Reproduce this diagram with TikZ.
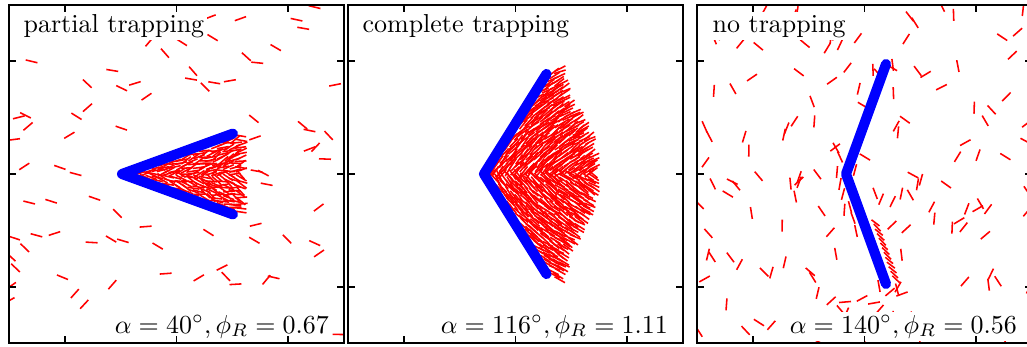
\documentclass[tikz,border=0pt]{standalone}
\usepackage{amsmath}
\usetikzlibrary{calc}

\begin{document}
\begin{tikzpicture}[x=0.385pt, y=-0.385pt,
        rod/.style={red, line width=0.6pt},
        wall/.style={blue, line width=3.9pt, line cap=round, line join=round},
        frame/.style={line width=0.65pt},
        tick/.style={line width=0.5pt},
        tag/.style={fill=white, inner sep=1pt}]
    \useasboundingbox (0,0) rectangle (1027,346);
    \pgfmathsetseed{11}

    % Partial trapping
    \begin{scope}
        \clip (9,5) rectangle (344,343);
        \foreach \i in {1,...,100} {
            \pgfmathsetmacro{\rx}{9+335*rnd}
            \pgfmathsetmacro{\ry}{5+338*rnd}
            \pgfmathsetmacro{\ra}{50*rand}
            \pgfmathtruncatemacro{\hit}{(\rx>100)*(\rx<252)*(abs(\ry-174)<0.42*(\rx-100)+10)}
            \ifnum\hit=0 \draw[rod] (\rx,\ry) ++(\ra:6) -- ++(\ra+180:12); \fi
        }
        \coordinate (apexA) at (122,174);
        \foreach \x in {127,133,...,241} {
            \foreach \j in {-13,...,13} {
                \pgfmathsetmacro{\dx}{\x-122+rand}
                \pgfmathsetmacro{\dy}{3.4*\j+0.8*rand}
                \pgfmathsetmacro{\ang}{abs(atan2(\dy,\dx))}
                \pgfmathtruncatemacro{\ok}{(\ang<20)*(veclen(\dx,\dy)*sin(20-\ang)>4.5)}
                \ifnum\ok=1
                    \pgfmathsetmacro{\ra}{sign(\dy)*20+(3+0.25*\dx)*rand}
                    \draw[rod] ($(apexA)+(\dx,\dy)$) ++(\ra:6) -- ++(\ra+180:12);
                \fi
            }
        }
        \draw[wall] (apexA) ++(-20:118) -- (apexA) -- ++(20:118);
    \end{scope}

    % Complete trapping
    \begin{scope}
        \clip (348,5) rectangle (683,343);
        \coordinate (apexB) at (484,174);
        \foreach \x in {489,494,...,604} {
            \foreach \j in {-32,...,32} {
                \pgfmathsetmacro{\dx}{\x-484+1.5*rand}
                \pgfmathsetmacro{\dy}{3.5*\j+0.8*rand}
                \pgfmathsetmacro{\rr}{veclen(\dx,\dy)}
                \pgfmathsetmacro{\ang}{abs(atan2(\dy,\dx))}
                \pgfmathtruncatemacro{\ok}{(\ang<58)*(\rr*sin(58-\ang)>5)*(\rr<112+1.5*max(0,\ang-42))}
                \ifnum\ok=1
                    \pgfmathsetmacro{\ra}{sign(\dy)*(58-28*\rr/115)+10*rand}
                    \draw[rod] ($(apexB)+(\dx,\dy)$) ++(\ra:6) -- ++(\ra+180:12);
                \fi
            }
        }
        \draw[wall] (apexB) ++(-58:118) -- (apexB) -- ++(58:118);
    \end{scope}

    % No trapping
    \begin{scope}
        \clip (697,5) rectangle (1032,343);
        \foreach \i in {1,...,150} {
            \pgfmathsetmacro{\rx}{697+335*rnd}
            \pgfmathsetmacro{\ry}{5+338*rnd}
            \pgfmathsetmacro{\ra}{90+65*rand}
            \draw[rod] (\rx,\ry) ++(\ra:6) -- ++(\ra+180:12);
        }
        \coordinate (apexC) at (846,174);
        \foreach \s in {56,61,...,116} {
            \pgfmathsetmacro{\ra}{42+5*rand}
            \draw[rod] (apexC) ++(70:\s) ++(-20:11) ++(\ra:5) -- ++(\ra+180:10);
        }
        \foreach \px/\py/\pa in {836/148/60, 840/157/65, 837/172/95, 840/184/100, 843/194/105,
                850/207/75, 853/218/70, 856/231/78, 855/170/-75, 879/286/80,
                890/292/-40, 898/287/-60, 874/303/-10, 902/294/-20, 845/302/-5} {
            \draw[rod] (\px,\py) ++(\pa:6) -- ++(\pa+180:12);
        }
        \draw[wall] (apexC) ++(-70:117) -- (apexC) -- ++(70:117);
    \end{scope}

    % Labels
    \node[tag, anchor=base west] (titleA) at (20.5,32) {partial trapping};
    \node[tag, anchor=base east] (paramA) at (332,333) {$\alpha=40^\circ,\phi_R=0.67$};
    \node[tag, anchor=base west] (titleB) at (359.5,32) {complete trapping};
    \node[tag, anchor=base east] (paramB) at (671,333) {$\alpha=116^\circ,\phi_R=1.11$};
    \node[tag, anchor=base west] (titleC) at (709.5,32) {no trapping};
    \node[tag, anchor=base east] (paramC) at (1020,333) {$\alpha=140^\circ,\phi_R=0.56$};

    % Frames and ticks
    \foreach \ox in {9,348,697} {
        \draw[frame] (\ox,5) rectangle ++(335,338);
        \foreach \t in {56,167.5,279} {
            \draw[tick] (\ox+\t,5) -- ++(0,7);
            \draw[tick] (\ox+\t,343) -- ++(0,-7);
        }
        \foreach \t in {61,174,287} {
            \draw[tick] (\ox,\t) -- ++(7,0);
            \draw[tick] (\ox+335,\t) -- ++(-7,0);
        }
    }
\end{tikzpicture}
\end{document}
